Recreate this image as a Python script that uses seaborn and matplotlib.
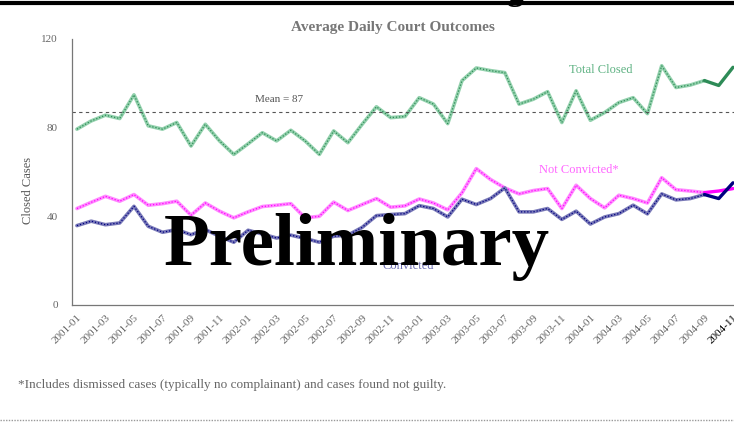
import numpy as np
import pandas as pd
import matplotlib.pyplot as plt
import seaborn as sns
from matplotlib.lines import Line2D

months = pd.period_range('2001-01', '2004-11', freq='M').strftime('%Y-%m').tolist()

total_closed = [79.3, 83.0, 85.6, 84.1, 94.8, 80.8, 79.3, 82.3, 71.7, 81.5, 74.0, 67.9,
                72.7, 77.7, 74.0, 78.8, 74.0, 67.9, 78.5, 73.2, 81.5, 89.4, 84.5,
                85.0, 93.5, 90.6, 81.8, 101.2, 106.9, 105.7, 104.8, 90.6, 92.8, 96.2, 82.3,
                96.6, 83.3, 86.8, 91.3, 93.5, 86.3, 107.9, 98.1, 99.2, 101.2, 99.0, 107.2]
not_convicted = [43.5, 46.3, 49.0, 46.8, 49.8, 45.0, 45.7, 46.8, 40.5, 46.0, 42.3, 39.3,
                 42.0, 44.4, 45.0, 45.7, 39.3, 40.0, 46.4, 42.6, 45.3, 48.0, 44.1,
                 44.7, 47.8, 46.0, 42.9, 50.6, 61.5, 56.6, 52.8, 50.1, 51.6, 52.5, 43.5,
                 54.0, 48.0, 43.8, 49.5, 48.0, 46.0, 57.4, 52.0, 51.4, 50.7, 51.4, 52.5]
convicted = [35.8, 37.8, 36.2, 37.0, 44.5, 35.5, 32.8, 34.0, 31.7, 34.0, 31.0, 28.3,
             33.7, 32.0, 30.2, 31.5, 30.0, 28.3, 31.0, 31.5, 35.0, 40.3, 40.8,
             41.2, 44.8, 43.5, 39.7, 47.7, 45.3, 48.0, 52.8, 42.0, 42.0, 43.5, 38.6,
             42.3, 36.5, 39.7, 41.2, 45.0, 41.1, 50.1, 47.4, 48.0, 49.8, 48.0, 55.1]
mean_closed = 87

df = pd.DataFrame({'x': np.arange(len(months)), 'month': months,
                   'Total Closed': total_closed, 'Not Convicted*': not_convicted,
                   'Convicted': convicted})

sns.set_style('white')
plt.rcParams['font.family'] = ['Liberation Serif', 'DejaVu Serif']

fig = plt.figure(figsize=(7.34, 4.23), dpi=100)
ax = fig.add_axes([0.098, 0.279, 0.902, 0.629])

# (column, dark solid colour, light dotted colour)
series = [('Total Closed', '#2e8b57', '#93d1ad'),
          ('Not Convicted*', '#ff00ff', '#ff8cff'),
          ('Convicted', '#000080', '#7a7ab8')]

for col, dark, light in series:
    old = df.iloc[:-2]
    new = df.iloc[-3:]
    sns.lineplot(data=old, x='x', y=col, color=light, lw=2.6, ax=ax)
    sns.lineplot(data=old, x='x', y=col, color=dark, lw=0.9, ls=(0, (1, 1.5)), ax=ax)
    sns.lineplot(data=new, x='x', y=col, color=dark, lw=2.4, ax=ax)

ax.axhline(mean_closed, color='#555555', lw=0.8, ls=(0, (3, 3)))

ax.set_xlim(-0.35, 46.07)
ax.set_ylim(0, 120)
ax.set_yticks([0, 40, 80, 120])
ax.set_xticks(df['x'][::2])
ax.set_xticklabels(df['month'][::2], rotation=45, ha='right', rotation_mode='anchor',
                   fontsize=8, color='#666666')
ax.get_xticklabels()[-1].set_color('black')
ax.tick_params(axis='x', length=0, pad=6)
ax.tick_params(axis='y', length=0, pad=10, labelsize=8, labelcolor='#666666')
ax.set_xlabel('')
ax.set_ylabel('Closed Cases', fontsize=9, color='#555555')
ax.yaxis.set_label_coords(-0.057, 0.43)

for s in ['top', 'right']:
    ax.spines[s].set_visible(False)
for s in ['left', 'bottom']:
    ax.spines[s].set_color('#777777')
    ax.spines[s].set_linestyle((0, (1, 1)))
    ax.spines[s].set_linewidth(0.9)

ax.text(14.2, 92.9, 'Mean = 87', fontsize=8, color='#555555', ha='center', va='center')
ax.text(36.7, 106, 'Total Closed', fontsize=9, color='#5fb283', ha='center', va='center')
ax.text(35.2, 60.7, 'Not Convicted*', fontsize=9, color='#ff66ff', ha='center', va='center')
ax.text(23.2, 17.6, 'Convicted', fontsize=9, color='#6a6ab0', ha='center', va='center')

fig.text(0.535, 0.936, 'Average Daily Court Outcomes', fontsize=11, weight='bold',
         color='#777777', ha='center', va='center')
fig.text(0.4857, 0.3735, 'Preliminary', fontsize=54, weight='bold', color='black',
         ha='center', va='baseline')
fig.text(0.025, 0.09, '*Includes dismissed cases (typically no complainant) and cases found not guilty.',
         fontsize=9.5, color='#666666', ha='left', va='center')
fig.text(0.69, 0.999, 'g', fontsize=24, weight='bold', color='black', va='baseline')

fig.add_artist(Line2D([0, 1], [1 - 3 / 423, 1 - 3 / 423], color='black', lw=3,
                      transform=fig.transFigure))
fig.add_artist(Line2D([0, 1], [1 - 420 / 423, 1 - 420 / 423], color='#999999', lw=1,
                      ls=(0, (1, 1)), transform=fig.transFigure))

fig.savefig('out.png', dpi=100)
